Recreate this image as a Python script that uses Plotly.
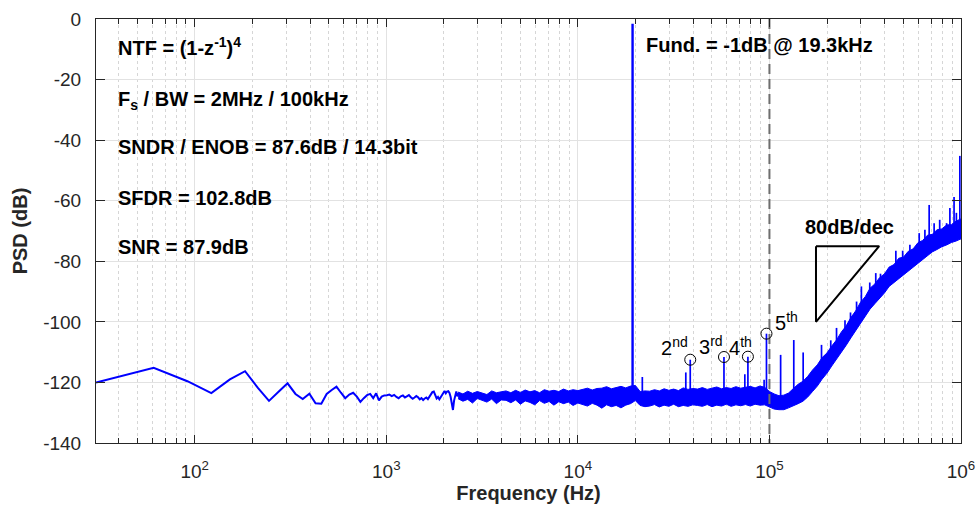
import numpy as np
import plotly.graph_objects as go

# ---------------- data ----------------
FS = 2e6
NFFT = 65536

# low-frequency FFT bins (k = 1 .. 78), dB
low_psd = [
    -120.0, -115.2, -119.6, -123.5, -119.0, -116.3, -121.8, -126.1, -123.0, -120.3,
    -123.8, -125.5, -123.7, -126.9, -127.0, -123.8, -122.5, -121.4, -123.4, -125.2,
    -124.0, -123.4, -124.7, -126.4, -125.2, -124.2, -123.8, -125.2, -123.6, -125.9,
    -124.7, -124.3, -124.2, -124.0, -124.5, -124.1, -124.8, -125.2, -124.6, -124.3,
    -125.0, -124.7, -124.2, -124.9, -125.4, -125.0, -124.5, -124.9, -125.6, -125.2,
    -125.8, -125.3, -125.0, -125.5, -124.6, -124.2, -123.2, -123.0, -124.4, -125.3,
    -124.8, -125.6, -124.9, -124.1, -123.4, -122.8, -123.6, -123.0, -122.9, -123.5,
    -124.8, -126.9, -129.1, -126.0, -124.2, -123.0, -124.6, -123.5,
]
low_freq = [k * FS / NFFT for k in range(1, len(low_psd) + 1)]

# dense noise floor: envelope (upper / lower) of the plotted spectrum
band_freq = [
    2371, 2512, 2661, 2818, 2985, 3162, 3350, 3548, 3758, 3981,
    4217, 4467, 4732, 5012, 5309, 5623, 5957, 6310, 6683, 7079,
    7499, 7943, 8414, 8913, 9441, 10000, 10593, 11220, 11885, 12589,
    13335, 14125, 14962, 15849, 16788, 17783, 18836, 19953, 21135, 22387,
    23714, 25119, 26607, 28184, 29854, 31623, 33497, 35481, 37584, 39811,
    42170, 44668, 47315, 50119, 53088, 56234, 59566, 63096, 66834, 70795,
    74989, 79433, 84140, 89125, 94406, 100000, 105925, 112202, 118850, 125893,
    133352, 141254, 149624, 158489, 167880, 177828, 188365, 199526, 211349, 223872,
    237137, 251189, 266073, 281838, 298538, 316228, 334965, 354813, 375837, 398107,
    421697, 446684, 473151, 501187, 530884, 562341, 595662, 630957, 668344, 707946,
    749894, 794328, 841395, 891251, 944061, 1000000,
]
band_upper = [
    -123.2, -123.8, -122.9, -123.6, -123.0, -123.5, -124.0, -122.8, -123.4, -123.1,
    -122.8, -123.4, -122.6, -123.3, -122.5, -123.1, -122.7, -123.4, -122.4, -122.9,
    -122.6, -123.0, -122.2, -122.8, -122.4, -122.7, -122.3, -121.9, -122.5, -122.0,
    -121.9, -121.4, -122.1, -121.6, -121.3, -121.8, -121.2, -121.0, -123.0, -122.8,
    -122.9, -122.4, -122.8, -122.1, -122.6, -122.2, -122.7, -121.8, -122.3, -122.0,
    -122.2, -121.7, -122.3, -121.9, -121.5, -122.1, -121.7, -122.0, -121.4, -121.9,
    -121.6, -121.3, -121.8, -121.2, -121.6, -123.0, -123.8, -124.4, -124.2, -123.5,
    -122.0, -120.6, -119.6, -118.0, -115.9, -114.2, -111.8, -110.3, -108.0, -106.0,
    -103.4, -101.4, -98.6, -96.4, -93.6, -91.7, -88.9, -87.5, -85.4, -84.2,
    -81.9, -81.1, -79.0, -78.6, -76.7, -75.9, -73.9, -73.1, -71.4, -71.1,
    -69.6, -69.3, -68.0, -67.9, -66.7, -66.0,
]
band_lower = [
    -125.4, -126.2, -125.6, -126.8, -125.3, -126.0, -126.5, -125.5, -127.0, -125.8,
    -125.9, -126.7, -125.8, -127.2, -126.1, -126.6, -127.4, -126.0, -126.9, -126.3,
    -127.5, -126.4, -127.0, -126.5, -127.6, -126.8, -127.2, -127.8, -126.9, -127.5,
    -128.5, -127.4, -128.0, -127.6, -128.4, -127.5, -127.0, -126.0, -127.6, -128.0,
    -127.8, -127.3, -128.1, -127.5, -127.9, -127.2, -128.0, -127.6, -127.9, -127.4,
    -127.6, -127.9, -127.3, -128.0, -127.5, -127.8, -127.2, -127.9, -127.4, -127.7,
    -127.3, -127.8, -127.2, -127.5, -127.4, -128.2, -128.8, -129.0, -129.0, -128.4,
    -127.8, -127.0, -126.2, -124.8, -123.0, -121.2, -118.9, -117.0, -114.6, -112.4,
    -109.9, -107.8, -105.3, -103.0, -100.3, -98.3, -95.8, -94.0, -92.2, -90.5,
    -88.3, -87.0, -85.7, -84.6, -83.2, -82.0, -80.6, -79.2, -77.9, -76.9,
    -76.1, -75.2, -74.6, -73.8, -73.3, -72.6,
]

# fundamental tone
fund_freq = 19300
fund_peak = -1.6
fund_base = -123.0

# spurs: frequency, peak level, level of the floor under them
spur_freq = [21700, 36600, 38600, 57900, 74400, 77200, 93800, 96500,
             114400, 134000, 150000, 187000, 209000, 224000, 248000, 265000, 285000,
             302000, 334000, 359000, 380000, 457000, 496000, 541000, 605000, 648000,
             682000, 724000, 774000, 841000, 875000, 920000, 946000, 986000]
spur_peak = [-118.2, -116.7, -112.5, -111.6, -117.3, -111.5, -119.1, -103.9,
             -110.9, -106.0, -110.1, -107.6, -106.1, -102.0, -99.5, -96.9, -93.3,
             -88.3, -87.0, -83.9, -84.1, -76.5, -76.5, -74.5, -70.7, -69.6,
             -61.4, -67.4, -66.3, -67.4, -62.4, -58.8, -64.0, -45.2]
spur_base = [-124, -124, -124, -124, -124, -124, -124, -124,
             -125, -124, -123, -116, -112, -108, -106, -103, -99,
             -96, -92, -90, -88, -82, -80, -80, -76, -74,
             -74, -73, -71, -70, -69, -69, -69, -69]

# harmonics marked with circles
harm_freq = [38600, 57900, 77200, 96500]
harm_peak = [-112.5, -111.6, -111.5, -103.9]
harm_text = ["2<sup>nd</sup>", "3<sup>rd</sup>", "4<sup>th</sup>", "5<sup>th</sup>"]

# 80 dB/dec slope triangle
tri_freq = [175000, 374000, 175000, 175000]
tri_db = [-75, -75, -100, -75]

bw_freq = 100000

x_tickvals = [1e2, 1e3, 1e4, 1e5, 1e6]
x_ticktext = ["10<sup>2</sup>", "10<sup>3</sup>", "10<sup>4</sup>", "10<sup>5</sup>", "10<sup>6</sup>"]
y_tickvals = [0, -20, -40, -60, -80, -100, -120, -140]
y_ticktext = ["0", "-20", "-40", "-60", "-80", "-100", "-120", "-140"]

info_lines = [
    "<b>NTF = (1-z<sup>-1</sup>)<sup>4</sup></b>",
    "<b>F<sub>s</sub> / BW = 2MHz / 100kHz</b>",
    "<b>SNDR / ENOB = 87.6dB / 14.3bit</b>",
    "<b>SFDR = 102.8dB</b>",
    "<b>SNR = 87.9dB</b>",
]
# ---------------------------------------------------------------

BLUE = "rgb(0,0,255)"
FONT = "Liberation Sans, Arial, sans-serif"
INK = "#262626"

fig = go.Figure()

# noise band
fig.add_trace(go.Scatter(x=band_freq, y=band_lower, mode="lines",
                         line=dict(color=BLUE, width=1), hoverinfo="skip"))
fig.add_trace(go.Scatter(x=band_freq, y=band_upper, mode="lines", fill="tonexty",
                         fillcolor=BLUE, line=dict(color=BLUE, width=1), hoverinfo="skip"))
# low-frequency bins
fig.add_trace(go.Scatter(x=low_freq, y=low_psd, mode="lines",
                         line=dict(color=BLUE, width=2), hoverinfo="skip"))
# spurs
sx, sy = [], []
for f, p, b in zip(spur_freq, spur_peak, spur_base):
    sx += [f, f, None]
    sy += [b, p, None]
fig.add_trace(go.Scatter(x=sx, y=sy, mode="lines", line=dict(color=BLUE, width=1.7),
                         hoverinfo="skip"))
# fundamental
fig.add_trace(go.Scatter(x=[fund_freq, fund_freq], y=[fund_base, fund_peak], mode="lines",
                         line=dict(color=BLUE, width=2.4), hoverinfo="skip"))
# bandwidth marker
fig.add_trace(go.Scatter(x=[bw_freq, bw_freq], y=[0, -140], mode="lines",
                         line=dict(color="rgb(110,110,110)", width=2, dash="10px,5px"),
                         hoverinfo="skip"))
# triangle
fig.add_trace(go.Scatter(x=tri_freq, y=tri_db, mode="lines",
                         line=dict(color="black", width=2), hoverinfo="skip"))
# harmonic circles
fig.add_trace(go.Scatter(x=harm_freq, y=harm_peak, mode="markers",
                         marker=dict(symbol="circle-open", size=11,
                                     line=dict(color="black", width=1), color="black"),
                         hoverinfo="skip"))

ann = []
info_y = [0.936, 0.808, 0.698, 0.579, 0.462]
for t, yy in zip(info_lines, info_y):
    ann.append(dict(text=t, xref="paper", yref="paper", x=0.0231, y=yy,
                    xanchor="left", yanchor="middle", showarrow=False,
                    font=dict(family=FONT, size=20, color="black")))
ann.append(dict(text="<b>Fund. = -1dB @ 19.3kHz</b>", xref="paper", yref="paper",
                x=0.6335, y=0.9387, xanchor="left", yanchor="middle", showarrow=False,
                font=dict(family=FONT, size=20, color="black")))
ann.append(dict(text="<b>80dB/dec</b>", xref="paper", yref="paper",
                x=0.8711, y=0.5083, xanchor="center", yanchor="middle", showarrow=False,
                font=dict(family=FONT, size=20, color="black")))
h_shift = [(0, 13, "right"), (1, 11, "right"), (6, 10, "right"), (7, 12, "left")]
for f, p, t, (dx, dy, anc) in zip(harm_freq, harm_peak, harm_text, h_shift):
    ann.append(dict(text=t, x=np.log10(f), y=p, xref="x", yref="y",
                    xshift=dx, yshift=dy, xanchor=anc, yanchor="middle",
                    showarrow=False, font=dict(family=FONT, size=20, color="black")))

minor_vals = [m * 10 ** e for e in range(1, 6) for m in range(2, 10)]

fig.update_layout(
    width=979, height=516,
    margin=dict(l=96, r=18, t=19, b=73, autoexpand=False),
    paper_bgcolor="white", plot_bgcolor="white",
    showlegend=False,
    annotations=ann,
    font=dict(family=FONT, size=19, color=INK),
    xaxis=dict(
        type="log", range=[np.log10(FS / NFFT), 6], automargin=False,
        tickmode="array", tickvals=x_tickvals, ticktext=x_ticktext,
        ticks="inside", ticklen=8, tickwidth=1, tickcolor=INK,
        showline=True, linecolor=INK, linewidth=1, mirror="ticks",
        showgrid=True, gridcolor="#e2e2e2", gridwidth=1,
        tickfont=dict(family=FONT, size=19, color=INK),
        ticklabelstandoff=11,
        minor=dict(tickmode="array", tickvals=minor_vals, ticks="inside", ticklen=5,
                   tickcolor=INK, showgrid=True, gridcolor="#d6d6d6", griddash="dot",
                   gridwidth=1),
        title=dict(text="<b>Frequency (Hz)</b>", font=dict(family=FONT, size=20, color=INK),
                   standoff=3),
        zeroline=False,
    ),
    yaxis=dict(
        range=[-140, 0], automargin=False,
        tickmode="array", tickvals=y_tickvals, ticktext=y_ticktext,
        ticks="inside", ticklen=9, tickwidth=1, tickcolor=INK,
        showline=True, linecolor=INK, linewidth=1, mirror="ticks",
        showgrid=True, gridcolor="#e2e2e2", gridwidth=1,
        tickfont=dict(family=FONT, size=19, color=INK),
        ticklabelstandoff=10,
        title=dict(text="<b>PSD (dB)</b>", font=dict(family=FONT, size=20, color=INK),
                   standoff=10),
        zeroline=False,
    ),
)

fig.write_html("out.html")
